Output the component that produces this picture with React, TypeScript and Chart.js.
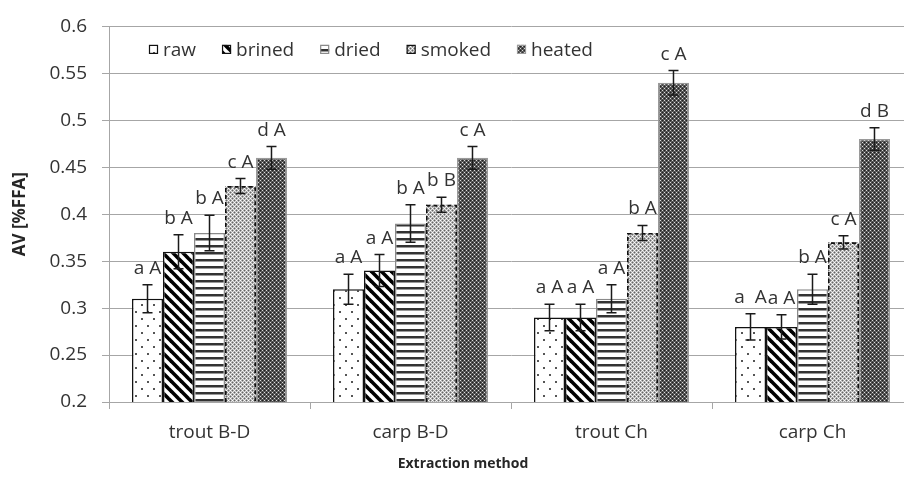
import React, { useEffect, useRef } from "react";
import { Chart, registerables } from "chart.js";

Chart.register(...registerables);

const categories = ["trout B-D", "carp B-D", "trout Ch", "carp Ch"];
const seriesNames = ["raw", "brined", "dried", "smoked", "heated"];

const rawValues = [0.31, 0.32, 0.29, 0.28];
const brinedValues = [0.36, 0.34, 0.29, 0.28];
const driedValues = [0.38, 0.39, 0.31, 0.32];
const smokedValues = [0.43, 0.41, 0.38, 0.37];
const heatedValues = [0.46, 0.46, 0.54, 0.48];

const rawErrors = [0.015, 0.016, 0.014, 0.014];
const brinedErrors = [0.018, 0.017, 0.014, 0.013];
const driedErrors = [0.019, 0.02, 0.015, 0.016];
const smokedErrors = [0.008, 0.008, 0.008, 0.007];
const heatedErrors = [0.012, 0.012, 0.013, 0.012];

const rawLabels = ["a A", "a A", "a A", "a  A"];
const brinedLabels = ["b A", "a A", "a A", "a A"];
const driedLabels = ["b A", "b A", "a A", "b A"];
const smokedLabels = ["c A", "b B", "b A", "c A"];
const heatedLabels = ["d A", "c A", "c A", "d B"];

const yTicks = [0.2, 0.25, 0.3, 0.35, 0.4, 0.45, 0.5, 0.55, 0.6];

const yTitle = "AV [%FFA]";
const xTitle = "Extraction method";

const FONT = "'Open Sans', 'DejaVu Sans', sans-serif";
const GRID = "#a6a6a6";
const TEXT = "#333333";

function makeTile(w: number, h: number, draw: (c: CanvasRenderingContext2D) => void) {
  const cv = document.createElement("canvas");
  cv.width = w;
  cv.height = h;
  const c = cv.getContext("2d")!;
  draw(c);
  return cv;
}

function lattice(white: string, dark: string, mid: string, light: string) {
  return makeTile(4, 4, (c) => {
    c.fillStyle = mid;
    c.fillRect(0, 0, 4, 4);
    c.fillStyle = light;
    c.fillRect(1, 1, 1, 1);
    c.fillRect(3, 1, 1, 1);
    c.fillRect(1, 3, 1, 1);
    c.fillRect(3, 3, 1, 1);
    c.fillStyle = white;
    c.fillRect(0, 0, 1, 1);
    c.fillRect(2, 2, 1, 1);
    c.fillStyle = dark;
    c.fillRect(2, 0, 1, 1);
    c.fillRect(0, 2, 1, 1);
  });
}

function makePatterns(ctx: CanvasRenderingContext2D) {
  const dots = makeTile(12, 14, (c) => {
    c.fillStyle = "#fff";
    c.fillRect(0, 0, 12, 14);
    c.fillStyle = "#555";
    c.fillRect(3, 3, 2, 2);
    c.fillRect(9, 10, 2, 2);
  });
  const diag = makeTile(10, 10, (c) => {
    c.fillStyle = "#fff";
    c.fillRect(0, 0, 10, 10);
    c.strokeStyle = "#000";
    c.lineWidth = 3.6;
    for (let k = -1; k <= 1; k++) {
      c.beginPath();
      c.moveTo(k * 10 - 2, -2);
      c.lineTo(k * 10 + 12, 12);
      c.stroke();
    }
  });
  const horiz = makeTile(4, 7, (c) => {
    c.fillStyle = "#fff";
    c.fillRect(0, 0, 4, 7);
    c.fillStyle = "#333";
    c.fillRect(0, 0, 4, 2);
    c.fillStyle = "#999";
    c.fillRect(0, 2, 4, 1);
  });
  const light = lattice("#ffffff", "#666666", "#aaaaaa", "#dddddd");
  const dark = lattice("#dddddd", "#222222", "#4a4a4a", "#666666");
  return [dots, diag, horiz, light, dark].map((t) => ctx.createPattern(t, "repeat")!);
}

const overlayPlugin = {
  id: "overlay",
  afterDatasetsDraw(chart: any) {
    const ctx: CanvasRenderingContext2D = chart.ctx;
    const yScale = chart.scales.y;
    const area = chart.chartArea;
    const datasets = chart.data.datasets;
    // dashed borders
    datasets.forEach((ds: any, i: number) => {
      if (!ds.dashedBorder) return;
      const meta = chart.getDatasetMeta(i);
      meta.data.forEach((bar: any) => {
        const x = bar.x;
        const y = bar.y;
        const width = bar.width;
        const bottom = Math.min(bar.base, area.bottom);
        ctx.save();
        ctx.setLineDash([4, 3]);
        ctx.strokeStyle = "#111";
        ctx.lineWidth = 1.6;
        ctx.beginPath();
        ctx.moveTo(x - width / 2 + 0.8, bottom);
        ctx.lineTo(x - width / 2 + 0.8, y + 0.8);
        ctx.lineTo(x + width / 2 - 0.8, y + 0.8);
        ctx.lineTo(x + width / 2 - 0.8, bottom);
        ctx.stroke();
        ctx.restore();
      });
    });
    // error bars and labels
    datasets.forEach((ds: any, i: number) => {
      const meta = chart.getDatasetMeta(i);
      meta.data.forEach((bar: any, j: number) => {
        const v = ds.data[j];
        const e = ds.errors[j];
        const top = yScale.getPixelForValue(v + e);
        const bot = yScale.getPixelForValue(v - e);
        const x = bar.x;
        ctx.save();
        ctx.strokeStyle = "#1a1a1a";
        ctx.lineWidth = 1.5;
        ctx.beginPath();
        ctx.moveTo(x, top);
        ctx.lineTo(x, bot);
        ctx.moveTo(x - 5, top);
        ctx.lineTo(x + 5, top);
        ctx.moveTo(x - 5, bot);
        ctx.lineTo(x + 5, bot);
        ctx.stroke();
        ctx.fillStyle = TEXT;
        ctx.font = `19px ${FONT}`;
        ctx.textAlign = "center";
        ctx.textBaseline = "alphabetic";
        ctx.fillText(ds.labelsText[j], x, top - 11);
        ctx.restore();
      });
    });
  },
  afterDraw(chart: any) {
    const ctx: CanvasRenderingContext2D = chart.ctx;
    const area = chart.chartArea;
    // legend
    ctx.save();
    ctx.font = `19px ${FONT}`;
    ctx.textBaseline = "middle";
    ctx.textAlign = "left";
    let lx = area.left + 40;
    const ly = area.top + 23;
    chart.data.datasets.forEach((ds: any) => {
      ctx.fillStyle = ds.backgroundColor;
      ctx.fillRect(lx, ly - 4.5, 9, 9);
      ctx.strokeStyle = ds.legendBorder;
      ctx.lineWidth = 1.2;
      ctx.strokeRect(lx + 0.5, ly - 4, 8, 8);
      ctx.fillStyle = TEXT;
      ctx.fillText(ds.label, lx + 14, ly + 1);
      lx += 14 + ctx.measureText(ds.label).width + 26;
    });
    ctx.restore();
    // axis titles
    ctx.save();
    ctx.fillStyle = "#262626";
    ctx.textAlign = "center";
    ctx.textBaseline = "middle";
    ctx.font = `bold 14px ${FONT}`;
    ctx.fillText(xTitle, 463, 464);
    ctx.font = `bold 17px ${FONT}`;
    ctx.translate(20, (area.top + area.bottom) / 2);
    ctx.rotate(-Math.PI / 2);
    ctx.fillText(yTitle, 0, 0);
    ctx.restore();
  },
};

export default function App() {
  const ref = useRef<HTMLCanvasElement>(null);

  useEffect(() => {
    const canvas = ref.current!;
    const ctx = canvas.getContext("2d")!;
    const patterns = makePatterns(ctx);
    const values = [rawValues, brinedValues, driedValues, smokedValues, heatedValues];
    const errors = [rawErrors, brinedErrors, driedErrors, smokedErrors, heatedErrors];
    const texts = [rawLabels, brinedLabels, driedLabels, smokedLabels, heatedLabels];
    const borders = ["#111", "#111", "#8a8a8a", "#111", "#9a9a9a"];
    const borderWidths = [1.5, 1.5, 1.5, 0, 1.5];

    const chart = new Chart(canvas, {
      type: "bar",
      data: {
        labels: categories,
        datasets: seriesNames.map((name, i) => ({
          label: name,
          data: values[i],
          errors: errors[i],
          labelsText: texts[i],
          backgroundColor: patterns[i],
          borderColor: borders[i],
          legendBorder: borders[i],
          borderWidth: borderWidths[i],
          borderSkipped: "bottom",
          dashedBorder: i === 3,
          barPercentage: 1,
          categoryPercentage: 0.771,
        })) as any,
      },
      options: {
        responsive: false,
        maintainAspectRatio: false,
        animation: false,
        devicePixelRatio: 1,
        layout: { padding: { top: 24, right: 7, bottom: 0, left: 0 } },
        plugins: {
          legend: { display: false },
          tooltip: { enabled: false },
        },
        scales: {
          x: {
            offset: true,
            grid: {
              offset: true,
              drawOnChartArea: false,
              drawTicks: true,
              tickLength: 7,
              color: GRID,
              lineWidth: 1,
            },
            border: { color: GRID, width: 1 },
            ticks: { font: { family: FONT, size: 19 }, color: TEXT, padding: 12 },
            afterFit: (s: any) => {
              s.height = 94;
            },
          },
          y: {
            min: 0.2,
            max: 0.6,
            afterBuildTicks: (s: any) => {
              s.ticks = yTicks.map((v) => ({ value: v }));
            },
            ticks: {
              font: { family: FONT, size: 19 },
              color: TEXT,
              padding: 15,
              callback: (v: any) => String(Math.round(Number(v) * 100) / 100),
            },
            grid: { color: GRID, lineWidth: 1, tickLength: 7 },
            border: { color: GRID, width: 1 },
            afterFit: (s: any) => {
              s.width = 109;
            },
          },
        },
      },
      plugins: [overlayPlugin],
    });
    return () => chart.destroy();
  }, []);

  return (
    <div
      style={{
        position: "fixed",
        left: 0,
        top: 0,
        width: 904,
        height: 496,
        overflow: "hidden",
        background: "#fff",
      }}
    >
      <canvas ref={ref} width={920} height={496} style={{ display: "block", width: 920, height: 496 }} />
    </div>
  );
}
